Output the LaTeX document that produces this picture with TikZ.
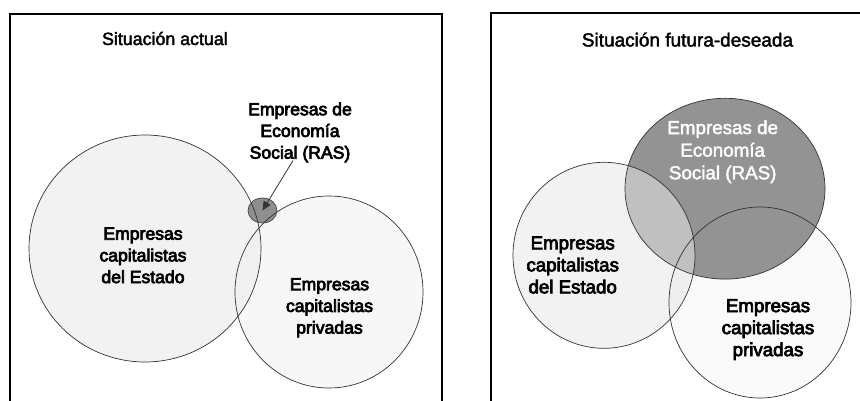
\documentclass[tikz,border=0pt]{standalone}
\usepackage{fontspec}
\setmainfont{Liberation Sans}
\newcommand{\heavytext}[1]{\special{pdf:literal direct 2 Tr #1 w}}
\usetikzlibrary{arrows.meta}
\definecolor{edge}{HTML}{333333}
\definecolor{estL}{HTML}{F2F2F2}
\definecolor{privL}{HTML}{F0F0F0}
\definecolor{rasL}{HTML}{8F8F8F}
\definecolor{privR}{HTML}{FAFAFA}
\definecolor{rasR}{HTML}{939393}
\definecolor{estR}{HTML}{E7E7E7}
\begin{document}
\begin{tikzpicture}[x=1pt,y=-1pt,
  frame/.style={draw=black, line width=1.8pt},
  ring/.style={draw=edge, line width=0.7pt},
  lblL/.style={align=center, inner sep=0pt, font=\fontsize{17.6}{21.7}\selectfont\heavytext{0.7}},
  lblR/.style={align=center, inner sep=0pt, font=\fontsize{18.7}{22}\selectfont\heavytext{0.7}},
  lblW/.style={align=center, inner sep=0pt, text=white, font=\fontsize{18.8}{22.6}\selectfont\heavytext{0.4}},
  ttl/.style={inner sep=0pt, anchor=base},
  pointer/.style={draw=edge, line width=0.8pt, -{Triangle[length=9pt,width=8pt]}}]
\useasboundingbox (0,0) rectangle (860,401);
\clip (0,0) rectangle (860,401);
\fill[white] (0,0) rectangle (860,401);

% ---------- left panel ----------
\draw[frame] (10,420) -- (10,14.3) -- (441.7,14.3) -- (441.7,420);
\node[ttl, font=\fontsize{17.8}{21}\selectfont\heavytext{0.4}] (titleL) at (164.9,45) {Situación actual};

\coordinate (cEstL) at (145,248.5);
\coordinate (cPrivL) at (329,292);
\coordinate (rasC) at (262.5,210.5);
\fill[estL] (cEstL) ellipse[x radius=116pt, y radius=113.5pt];
\fill[privL, fill opacity=0.5] (cPrivL) ellipse[x radius=94pt, y radius=96pt];
\fill[rasL] (rasC) ellipse[x radius=14.5pt, y radius=12.5pt];
\draw[ring] (cEstL) ellipse[x radius=116pt, y radius=113.5pt];
\draw[ring] (cPrivL) ellipse[x radius=94pt, y radius=96pt];
\draw[ring, draw=black!75] (rasC) ellipse[x radius=14.5pt, y radius=12.5pt];

\node[lblL] (estLbl) at (143,255.4) {Empresas\\capitalistas\\del Estado};
\node[lblL] (privLbl) at (329.5,307.7) {Empresas\\capitalistas\\privadas};
\node[lblL] (rasLbl) at (300,132.4) {Empresas de\\Economía\\Social (RAS)};
\draw[pointer] ([xshift=-7pt,yshift=2pt]rasLbl.south) -- (rasC);

% ---------- right panel ----------
\draw[frame] (491,420) -- (491,13) -- (880,13);
\node[ttl, font=\fontsize{19}{22}\selectfont\heavytext{0.4}] (titleR) at (687.5,46.5) {Situación futura-deseada};

\coordinate (cPrivR) at (760,302.5);
\coordinate (cRasR) at (725,188.7);
\coordinate (cEstR) at (604,255.3);
\fill[privR] (cPrivR) ellipse[x radius=91pt, y radius=95.5pt];
\fill[rasR] (cRasR) ellipse[x radius=100pt, y radius=90.4pt];
\fill[estR, fill opacity=0.54] (cEstR) ellipse[x radius=91pt, y radius=93pt];
\draw[ring] (cPrivR) ellipse[x radius=91pt, y radius=95.5pt];
\draw[ring] (cRasR) ellipse[x radius=100pt, y radius=90.4pt];
\draw[ring] (cEstR) ellipse[x radius=91pt, y radius=93pt];

\node[lblR] (estRLbl) at (572.7,265) {Empresas\\capitalistas\\del Estado};
\node[lblR] (privRLbl) at (768,329.6) {Empresas\\capitalistas\\privadas};
\node[lblW] (rasRLbl) at (722.7,151.8) {Empresas de\\Economía\\Social (RAS)};
\end{tikzpicture}
\end{document}
